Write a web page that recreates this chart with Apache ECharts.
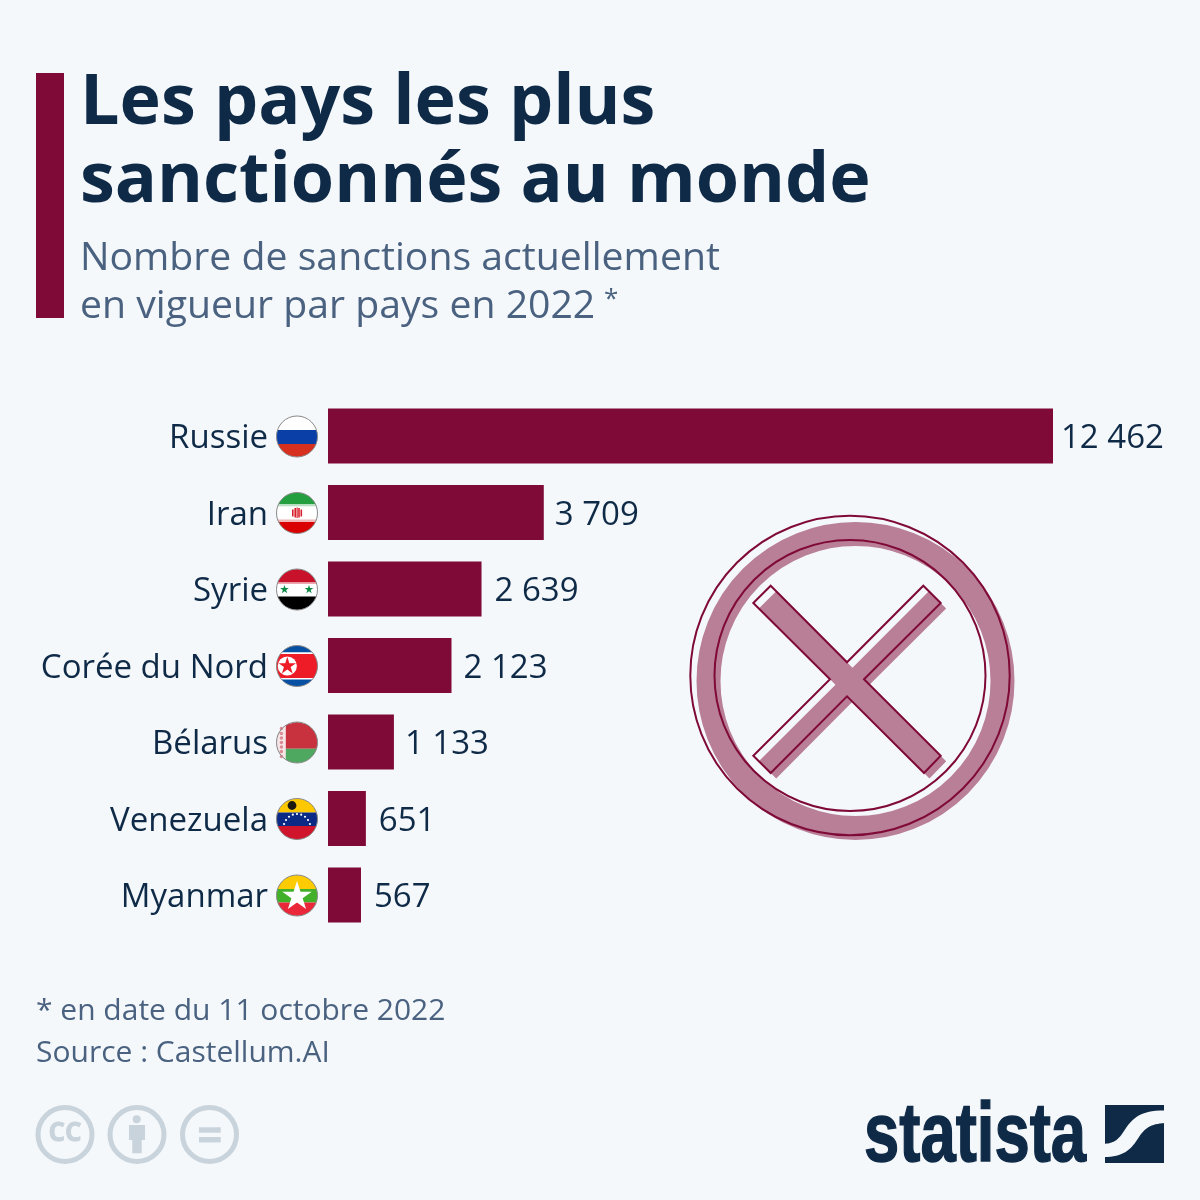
<!DOCTYPE html>
<html><head><meta charset="utf-8">
<style>html,body{margin:0;padding:0;background:#f4f8fb}#c{width:1200px;height:1200px}</style>
<script src="https://cdn.jsdelivr.net/npm/echarts@6/dist/echarts.min.js"></script>
</head><body><div id="c"></div>
<script>
const categories = ['Russie','Iran','Syrie','Corée du Nord','Bélarus','Venezuela','Myanmar'];
const values = [12462,3709,2639,2123,1133,651,567];
const titleLines = ['Les pays les plus','sanctionnés au monde'];
const subtitleLines = ['Nombre de sanctions actuellement','en vigueur par pays en 2022'];
const subtitleNote = '*';
const footLines = ['* en date du 11 octobre 2022','Source : Castellum.AI'];
const labelGaps = [8,11,13,12,11,13,13];

const NAVY='#0f2a47', WINE='#7f0a37', SLATE='#4a6280', PINK='#b97f96', GREY='#c8d3db', BG='#f4f8fb';
const FONT='"Open Sans"';

function band(cx,cy,r,y0,y1){
  const pts=[],t=cy-r+y0,b=cy-r+y1,n=14;
  const hw=y=>Math.sqrt(Math.max(0,r*r-(y-cy)*(y-cy)));
  for(let i=0;i<=n;i++){const y=t+(b-t)*i/n;pts.push([cx+hw(y),y]);}
  for(let i=n;i>=0;i--){const y=t+(b-t)*i/n;pts.push([cx-hw(y),y]);}
  return pts;
}
function hoist(cx,cy,r,w){
  const pts=[],x=cx-r+w,a=Math.acos((x-cx)/r);
  for(let i=0;i<=24;i++){const t=a+(2*Math.PI-2*a)*i/24;pts.push([cx+r*Math.cos(t),cy-r*Math.sin(t)]);}
  return pts;
}
function star(cx,cy,R,k){
  const pts=[];k=k||0.382;
  for(let i=0;i<10;i++){const q=-Math.PI/2+i*Math.PI/5,m=i%2?R*k:R;pts.push([cx+m*Math.cos(q),cy+m*Math.sin(q)]);}
  return pts;
}
function bez(a,b,c,d){
  const pts=[];
  for(let i=0;i<=16;i++){const t=i/16,u=1-t;
    pts.push([u*u*u*a[0]+3*u*u*t*b[0]+3*u*t*t*c[0]+t*t*t*d[0],u*u*u*a[1]+3*u*u*t*b[1]+3*u*t*t*c[1]+t*t*t*d[1]]);}
  return pts;
}
const poly=(points,fill)=>({type:'polygon',shape:{points},style:{fill}});
const disc=(x,y,r,fill)=>({type:'circle',shape:{cx:x,cy:y,r},style:{fill}});
const box=(x,y,width,height,fill)=>({type:'rect',shape:{x,y,width,height},style:{fill}});
const stripes=(x,y,r,list)=>list.map(s=>poly(band(x,y,r,s[0],s[1]),s[2]));
const EMB='#d8202c';

const flagArt=[
 (x,y,r)=>stripes(x,y,r,[[0,14,'#ffffff'],[14,28,'#0a3fa8'],[28,41,'#d8301e']]),
 (x,y,r)=>stripes(x,y,r,[[0,11.5,'#239f40'],[11.5,14,'#b9dfc2'],[14,27,'#ffffff'],[27,29.5,'#f2b8b8'],[29.5,41,'#da0000']])
   .concat([box(x-5,y-3.5,1.6,7,EMB),box(x-2.6,y-5,1.6,9.5,EMB),box(x-0.5,y-5.5,1.2,10.5,EMB),box(x+1.2,y-5,1.6,9.5,EMB),box(x+3.5,y-3.5,1.6,7,EMB)]),
 (x,y,r)=>stripes(x,y,r,[[0,13.5,'#c8112b'],[13.5,15,'#f0a8b0'],[15,27.5,'#ffffff'],[27.5,41,'#000000']])
   .concat([poly(star(x-12.5,y,4.6),'#0c8a45'),poly(star(x+12,y,4.6),'#0c8a45')]),
 (x,y,r)=>stripes(x,y,r,[[0,7,'#0650a4'],[7,8.5,'#ffffff'],[8.5,32.5,'#ed1c27'],[32.5,34,'#ffffff'],[34,41,'#0650a4']])
   .concat([disc(x-9.7,y,9.6,'#ffffff'),poly(star(x-9.7,y,9.2),'#ed1c27')]),
 (x,y,r)=>stripes(x,y,r,[[0,26.7,'#c8313e'],[26.7,41,'#4fa85f']])
   .concat([poly(hoist(x,y,r,9.3),'#f5e6e8')])
   .concat([-14,-9,-4.5,0,4.5,9,14].map(d=>disc(x-15.6,y+d,1.7,'#dc8a94'))),
 (x,y,r)=>stripes(x,y,r,[[0,14,'#fdc800'],[14,27.5,'#0b2a86'],[27.5,41,'#cf142b']])
   .concat([disc(x-5,y-13.5,4.4,'#1c1a10')])
   .concat([-72,-54,-36,-18,0,18,36,54,72].map(a=>disc(x+13.6*Math.sin(a*Math.PI/180),y+9.5-14.5*Math.cos(a*Math.PI/180),1.1,'#ffffff'))),
 (x,y,r)=>stripes(x,y,r,[[0,14,'#fecb00'],[14,27.5,'#43b02a'],[27.5,41,'#ea2839']])
   .concat([poly(star(x,y+1,15.5),'#ffffff')])
];

function renderFlag(params,api){
  const i=api.value(1), p=api.coord([0,i]);
  const x=p[0]-31, y=p[1]+0.5, r=20.5;
  return {type:'group',silent:true,children:flagArt[i](x,y,r).concat([
    {type:'circle',shape:{cx:x,cy:y,r},style:{fill:'none',stroke:'#8a8a8a',lineWidth:1}}])};
}

const txt=(text,x,y,size,fill,weight,align)=>({type:'text',silent:true,style:{text,x,y,fill,
  font:(weight||'normal')+' '+size+'px '+FONT,textAlign:align||'left',textVerticalAlign:'middle'}});
const rectG=(x,y,width,height,fill)=>({type:'rect',silent:true,shape:{x,y,width,height},style:{fill}});
const xShape=[[770.7,585.7],[847,662.3],[923.3,585.7],[940.7,603],[864,679.3],[940.7,755.7],[924,773],[847,696.3],[770.7,773],[753.3,755.7],[830,679.3],[753.3,603]];
const ring=(x,y,r,stroke,lineWidth)=>({type:'circle',silent:true,shape:{cx:x,cy:y,r},style:{fill:'none',stroke,lineWidth}});
const swoosh=bez([1165,1110.5],[1138,1110],[1131,1120],[1122,1134]).concat(bez([1122,1134],[1116,1142],[1112,1143],[1104,1144]))
  .concat(bez([1104,1157],[1123,1157],[1131,1150],[1139,1137])).concat(bez([1139,1137],[1145,1128],[1150,1124],[1165,1123]));

const cc=txt('CC',65,1134,26,GREY,'bold','center');
cc.style.stroke=GREY;cc.style.lineWidth=0.8;

const graphics=[
 rectG(36,73,28,245,WINE),
 txt(titleLines[0],80,104.5,70,NAVY,'bold'),
 txt(titleLines[1],80,182.5,70,NAVY,'bold'),
 txt(subtitleLines[0],80,258.5,39.2,SLATE),
 txt(subtitleLines[1],80,306.5,39.2,SLATE),
 txt(subtitleNote,604,300,26,SLATE),
 txt(footLines[0],36,1011,30,SLATE),
 txt(footLines[1],36,1053,30,SLATE),
 ring(855.5,681,147,PINK,24),
 {type:'polygon',silent:true,shape:{points:xShape.map(p=>[p[0]+5.5,p[1]+5.5])},style:{fill:PINK}},
 ring(850,675.5,159.7,WINE,2),
 ring(850,675.5,135.5,WINE,2),
 {type:'polygon',silent:true,shape:{points:xShape},style:{fill:'none',stroke:WINE,lineWidth:2}},
 ring(65,1134.5,27,GREY,5),
 cc,
 ring(137,1134.5,27,GREY,5),
 {type:'circle',silent:true,shape:{cx:136.7,cy:1119.3,r:4},style:{fill:GREY}},
 rectG(129,1125,16,15,GREY),
 rectG(132.3,1125,9.4,28.3,GREY),
 ring(209.5,1134.5,27,GREY,5),
 rectG(199,1127.3,21.7,5.4,GREY),
 rectG(199,1137,21.7,5.4,GREY),
 {type:'text',silent:true,style:{text:'statista',x:0,y:0,fill:NAVY,stroke:NAVY,lineWidth:1.5,font:'bold 84px "Liberation Sans"',textAlign:'left',textVerticalAlign:'middle'},x:864,y:1137.5,scaleX:0.755,scaleY:1},
 rectG(1105,1105,59,58,NAVY),
 {type:'polygon',silent:true,shape:{points:swoosh},style:{fill:BG}}
];

const chart=echarts.init(document.getElementById('c'),null,{renderer:'canvas',width:1200,height:1200});
chart.setOption({
  animation:false,
  backgroundColor:BG,
  tooltip:{show:false},
  grid:{left:328,top:397.75,width:725,height:535.5,containLabel:false},
  xAxis:{type:'value',min:0,max:12462,show:false},
  yAxis:{type:'category',inverse:true,data:categories,
    axisLine:{show:false},axisTick:{show:false},
    axisLabel:{margin:60,color:NAVY,fontFamily:FONT,fontSize:33,fontWeight:'normal',verticalAlign:'top',lineHeight:6}},
  series:[
   {type:'bar',data:values.map((v,i)=>({value:v,label:{distance:labelGaps[i]}})),barWidth:55,silent:true,itemStyle:{color:WINE},
    label:{show:true,position:'right',color:NAVY,fontFamily:FONT,fontSize:33,offset:[0,3],
      formatter:p=>String(p.value).replace(/\B(?=(\d{3})+$)/g,' ')}},
   {type:'custom',silent:true,renderItem:renderFlag,clip:false,
    data:categories.map((c,i)=>[0,i]),encode:{x:0,y:1}}
  ],
  graphic:graphics
});
</script></body></html>
